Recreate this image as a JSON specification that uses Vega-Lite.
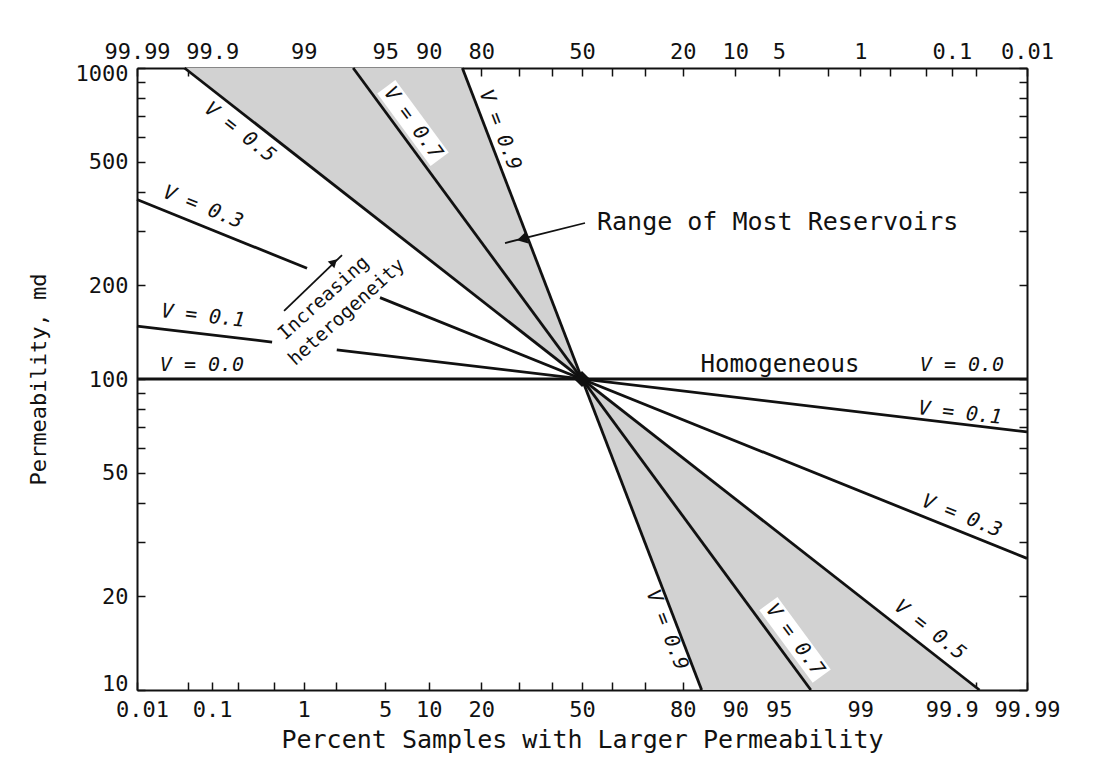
{
  "$schema": "https://vega.github.io/schema/vega-lite/v6.json",
  "width": 890,
  "height": 622,
  "autosize": {"type": "none"},
  "padding": {"left": 137, "top": 68, "right": 75, "bottom": 79},
  "background": "white",
  "config": {
    "view": {"stroke": null},
    "font": "DejaVu Sans Mono",
    "axis": {
      "grid": false,
      "domainColor": "#111111",
      "domainWidth": 2,
      "tickColor": "#111111",
      "tickWidth": 1.5,
      "tickSize": -8,
      "labelFont": "DejaVu Sans Mono",
      "labelFontSize": 22,
      "labelColor": "#111111",
      "labelFlush": false,
      "labelOverlap": false,
      "labelBound": false,
      "titleFont": "DejaVu Sans Mono",
      "titleColor": "#111111",
      "titleFontWeight": "normal"
    }
  },
  "data": {
    "values": [
      {"kind": "shade", "part": "upper", "p": 0.0447, "k": 1000, "k2": 1000},
      {"kind": "shade", "part": "upper", "p": 15.866, "k": 1000, "k2": 200},
      {"kind": "shade", "part": "upper", "p": 50, "k": 100, "k2": 100},
      {"kind": "shade", "part": "lower", "p": 50, "k": 100, "k2": 100},
      {"kind": "shade", "part": "lower", "p": 84.134, "k": 10, "k2": 50},
      {"kind": "shade", "part": "lower", "p": 99.9553, "k": 10, "k2": 10},

      {"kind": "line", "seg": "v0", "p": 0.01, "k": 100},
      {"kind": "line", "seg": "v0", "p": 99.99, "k": 100},
      {"kind": "line", "seg": "v1a", "p": 0.01, "k": 148.0},
      {"kind": "line", "seg": "v1a", "p": 0.48, "k": 131.4},
      {"kind": "line", "seg": "v1b", "p": 2.02, "k": 124.1},
      {"kind": "line", "seg": "v1b", "p": 99.99, "k": 67.6},
      {"kind": "line", "seg": "v3a", "p": 0.01, "k": 377.6},
      {"kind": "line", "seg": "v3a", "p": 1.078, "k": 227.0},
      {"kind": "line", "seg": "v3b", "p": 4.57, "k": 182.6},
      {"kind": "line", "seg": "v3b", "p": 99.99, "k": 26.5},
      {"kind": "line", "seg": "v5", "p": 0.0447, "k": 1000},
      {"kind": "line", "seg": "v5", "p": 99.9553, "k": 10},
      {"kind": "line", "seg": "v7", "p": 2.791, "k": 1000},
      {"kind": "line", "seg": "v7", "p": 97.209, "k": 10},
      {"kind": "line", "seg": "v9", "p": 15.866, "k": 1000},
      {"kind": "line", "seg": "v9", "p": 84.134, "k": 10},

      {"kind": "arrow", "seg": "range", "p": 51.0, "k": 317.4},
      {"kind": "arrow", "seg": "range", "p": 26.0, "k": 273.7},
      {"kind": "arrow", "seg": "incr", "p": 0.639, "k": 165.5},
      {"kind": "arrow", "seg": "incr", "p": 2.245, "k": 250.4},

      {"kind": "headRange", "p": 30.8, "k": 281.9},
      {"kind": "headIncr", "p": 1.911, "k": 237.8},
      {"kind": "center", "p": 50, "k": 100},

      {"kind": "vbox", "p": 7.89, "k": 665.6},
      {"kind": "vbox", "p": 96.25, "k": 14.5},

      {"kind": "vlab", "label": "V = 0.0", "v": 0, "p": 0.0747, "k": 110.9},
      {"kind": "vlab", "label": "V = 0.1", "v": 0.1, "p": 0.0771, "k": 159.4},
      {"kind": "vlab", "label": "V = 0.3", "v": 0.3, "p": 0.0771, "k": 357},
      {"kind": "vlab", "label": "V = 0.5", "v": 0.5, "p": 0.213, "k": 622},
      {"kind": "vlab", "label": "V = 0.7", "v": 0.7, "p": 7.89, "k": 665.6},
      {"kind": "vlab", "label": "V = 0.9", "v": 0.9, "p": 24.66, "k": 632},
      {"kind": "vlab", "label": "V = 0.0", "v": 0, "p": 99.9253, "k": 110.9},
      {"kind": "vlab", "label": "V = 0.1", "v": 0.1, "p": 99.921, "k": 77.7},
      {"kind": "vlab", "label": "V = 0.3", "v": 0.3, "p": 99.925, "k": 36.3},
      {"kind": "vlab", "label": "V = 0.5", "v": 0.5, "p": 99.818, "k": 15.6},
      {"kind": "vlab", "label": "V = 0.7", "v": 0.7, "p": 96.25, "k": 14.5},
      {"kind": "vlab", "label": "V = 0.9", "v": 0.9, "p": 76.12, "k": 15.6},

      {"kind": "note", "label": "Range of Most Reservoirs", "p": 54.99, "k": 319.8},
      {"kind": "note2", "label": "Homogeneous", "p": 95.1, "k": 110.9},
      {"kind": "rot", "label": "Increasing", "p": 1.538, "k": 182.2},
      {"kind": "rot", "label": "heterogeneity", "p": 2.454, "k": 164.3}
    ]
  },
  "transform": [{"calculate": "quantileNormal(datum.p / 100)", "as": "z"}],
  "resolve": {"axis": {"x": "independent", "y": "independent"}},
  "layer": [
    {
      "transform": [{"filter": "datum.kind == 'shade'"}],
      "mark": {"type": "area", "color": "#d2d2d2", "opacity": 1},
      "encoding": {
        "x": {
          "field": "z", "type": "quantitative",
          "scale": {"domain": [-3.719016, 3.719016], "nice": false, "zero": false},
          "axis": {
            "orient": "bottom",
            "values": [-3.719016, -3.290527, -3.090232, -2.878162, -2.575829, -2.326348, -2.053749, -1.644854, -1.281552, -0.841621, -0.524401, -0.253347, 0, 0.253347, 0.524401, 0.841621, 1.281552, 1.644854, 2.053749, 2.326348, 2.575829, 2.878162, 3.090232, 3.290527, 3.719016],
            "labelExpr": "indexof(['0.01','0.1','1','5','10','20','50','80','90','95','99','99.9','99.99'], format(cumulativeNormal(datum.value) * 100, '.4~r')) >= 0 ? format(cumulativeNormal(datum.value) * 100, '.4~r') : ''",
            "labelOffset": {"condition": {"test": "datum.value < -3.7", "value": 5}, "value": 0},
            "labelPadding": 17,
            "title": "Percent Samples with Larger Permeability",
            "titleFontSize": 25,
            "titlePadding": 7
          }
        },
        "y": {
          "field": "k", "type": "quantitative",
          "scale": {"type": "log", "domain": [10, 1000], "nice": false},
          "axis": {
            "orient": "left",
            "values": [10, 20, 30, 40, 50, 60, 70, 80, 90, 100, 200, 300, 400, 500, 600, 700, 800, 900, 1000],
            "labelExpr": "indexof([10, 20, 50, 100, 200, 500, 1000], datum.value) >= 0 ? format(datum.value, 'd') : ''",
            "labelOffset": {"condition": {"test": "datum.value == 1000", "value": 5}, "value": 0},
            "labelBaseline": {"condition": {"test": "datum.value == 10", "value": "alphabetic"}, "value": "middle"},
            "labelPadding": 17,
            "title": "Permeability, md",
            "titleFontSize": 22,
            "titlePadding": 25
          }
        },
        "y2": {"field": "k2"},
        "detail": {"field": "part"}
      }
    },
    {
      "transform": [{"filter": "datum.kind == 'vbox'"}],
      "mark": {"type": "point", "shape": "M-1,-0.25L1,-0.25L1,0.25L-1,0.25Z", "filled": true, "color": "white", "opacity": 1, "strokeWidth": 0, "size": 8100, "angle": 53.65},
      "encoding": {
        "x": {"field": "z", "type": "quantitative", "axis": null},
        "y": {"field": "k", "type": "quantitative", "axis": null}
      }
    },
    {
      "transform": [{"filter": "datum.kind == 'line'"}],
      "mark": {"type": "line", "color": "#111111", "strokeWidth": 2.8},
      "encoding": {
        "x": {
          "field": "z", "type": "quantitative",
          "axis": {
            "orient": "top",
            "values": [-3.719016, -3.290527, -3.090232, -2.878162, -2.575829, -2.326348, -2.053749, -1.644854, -1.281552, -0.841621, -0.524401, -0.253347, 0, 0.253347, 0.524401, 0.841621, 1.281552, 1.644854, 2.053749, 2.326348, 2.575829, 2.878162, 3.090232, 3.290527, 3.719016],
            "labelExpr": "indexof(['0.01','0.1','1','5','10','20','50','80','90','95','99','99.9','99.99'], format(100 - cumulativeNormal(datum.value) * 100, '.4~r')) >= 0 ? format(100 - cumulativeNormal(datum.value) * 100, '.4~r') : ''",
            "labelPadding": 13,
            "title": null
          }
        },
        "y": {
          "field": "k", "type": "quantitative",
          "axis": {
            "orient": "right",
            "values": [10, 20, 30, 40, 50, 60, 70, 80, 90, 100, 200, 300, 400, 500, 600, 700, 800, 900, 1000],
            "labels": false,
            "title": null
          }
        },
        "detail": {"field": "seg"}
      }
    },
    {
      "transform": [{"filter": "datum.kind == 'arrow'"}],
      "mark": {"type": "line", "color": "#111111", "strokeWidth": 1.8},
      "encoding": {
        "x": {"field": "z", "type": "quantitative", "axis": null},
        "y": {"field": "k", "type": "quantitative", "axis": null},
        "detail": {"field": "seg"}
      }
    },
    {
      "transform": [{"filter": "datum.kind == 'headRange'"}],
      "mark": {"type": "point", "shape": "triangle-left", "filled": true, "color": "#111111", "opacity": 1, "size": 140, "angle": -14},
      "encoding": {
        "x": {"field": "z", "type": "quantitative", "axis": null},
        "y": {"field": "k", "type": "quantitative", "axis": null}
      }
    },
    {
      "transform": [{"filter": "datum.kind == 'headIncr'"}],
      "mark": {"type": "point", "shape": "triangle-right", "filled": true, "color": "#111111", "opacity": 1, "size": 90, "angle": -44},
      "encoding": {
        "x": {"field": "z", "type": "quantitative", "axis": null},
        "y": {"field": "k", "type": "quantitative", "axis": null}
      }
    },
    {
      "transform": [{"filter": "datum.kind == 'center'"}],
      "mark": {"type": "point", "shape": "diamond", "filled": true, "color": "#111111", "opacity": 1, "size": 260},
      "encoding": {
        "x": {"field": "z", "type": "quantitative", "axis": null},
        "y": {"field": "k", "type": "quantitative", "axis": null}
      }
    },
    {
      "transform": [{"filter": "datum.kind == 'vlab'"}],
      "mark": {"type": "text", "font": "DejaVu Sans Mono", "fontSize": 20, "fontStyle": "italic", "color": "#111111", "align": "center", "baseline": "middle"},
      "encoding": {
        "x": {"field": "z", "type": "quantitative", "axis": null},
        "y": {"field": "k", "type": "quantitative", "axis": null},
        "text": {"field": "label"},
        "angle": {"field": "v", "type": "quantitative", "scale": {"domain": [0, 0.1, 0.3, 0.5, 0.7, 0.9], "range": [0, 6.8, 21.9, 38, 53.65, 68.96]}, "legend": null}
      }
    },
    {
      "transform": [{"filter": "datum.kind == 'note'"}],
      "mark": {"type": "text", "font": "DejaVu Sans Mono", "fontSize": 25, "color": "#111111", "align": "left", "baseline": "middle"},
      "encoding": {
        "x": {"field": "z", "type": "quantitative", "axis": null},
        "y": {"field": "k", "type": "quantitative", "axis": null},
        "text": {"field": "label"}
      }
    },
    {
      "transform": [{"filter": "datum.kind == 'note2'"}],
      "mark": {"type": "text", "font": "DejaVu Sans Mono", "fontSize": 24, "color": "#111111", "align": "center", "baseline": "middle"},
      "encoding": {
        "x": {"field": "z", "type": "quantitative", "axis": null},
        "y": {"field": "k", "type": "quantitative", "axis": null},
        "text": {"field": "label"}
      }
    },
    {
      "transform": [{"filter": "datum.kind == 'rot'"}],
      "mark": {"type": "text", "font": "DejaVu Sans Mono", "fontSize": 19, "color": "#111111", "align": "center", "baseline": "middle", "angle": -42},
      "encoding": {
        "x": {"field": "z", "type": "quantitative", "axis": null},
        "y": {"field": "k", "type": "quantitative", "axis": null},
        "text": {"field": "label"}
      }
    }
  ]
}
